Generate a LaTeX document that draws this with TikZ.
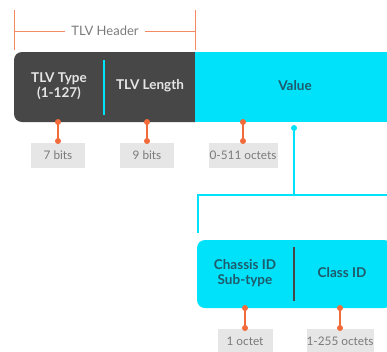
\documentclass[tikz,border=0pt]{standalone}
\usepackage{fontspec}
\setmainfont{Lato}
\definecolor{darkbar}{HTML}{474747}
\definecolor{cyanbar}{HTML}{00E1FA}
\definecolor{orng}{HTML}{F26B3A}
\definecolor{graybox}{HTML}{E6E6E6}
\definecolor{graytxt}{HTML}{7A7A7A}
\definecolor{tealtxt}{HTML}{1F5B6B}
\definecolor{lighttxt}{HTML}{E6E6E6}
\begin{document}
\begin{tikzpicture}[x=1pt,y=-1pt,
  sizebox/.style={fill=graybox,text=graytxt,minimum height=25pt,inner sep=0pt,font=\fontsize{11.8}{13}\selectfont},
  darklbl/.style={text=lighttxt,font=\bfseries\fontsize{13.5}{14.5}\selectfont,align=center},
  cyanlbl/.style={text=tealtxt,font=\bfseries\fontsize{13.5}{14.5}\selectfont,align=center},
  pin/.style={draw=orng,line width=1.3pt},
  dot/.style={circle,fill=orng,inner sep=0pt,minimum size=6pt},
  cdot/.style={circle,fill=cyanbar,inner sep=0pt,minimum size=6pt},
  cline/.style={draw=cyanbar,line width=1.3pt},
  hdr/.style={draw=orng!80,line width=1pt}]
\useasboundingbox (0,0) rectangle (387,351);
% header bracket
\node[text=graytxt,font=\fontsize{13}{15}\selectfont] (hdrtxt) at (105,31) {TLV Header};
\draw[hdr] (14,10) -- (14,50);
\draw[hdr] (195,10) -- (195,50);
\draw[hdr] (14,31) -- ([xshift=-3pt]hdrtxt.west);
\draw[hdr] ([xshift=3pt]hdrtxt.east) -- (195,31);
% main bar
\fill[cyanbar] (195,52) rectangle (387,122);
\fill[darkbar,rounded corners=8pt] (14,52) rectangle (203,122);
\fill[darkbar] (190,52) rectangle (195,122);
\fill[cyanbar] (195,52) rectangle (210,122);
\draw[cyanbar,line width=1.2pt] (104,60) -- (104,115);
\node[darklbl] (type) at (59,86) {TLV Type\\(1-127)};
\node[darklbl] (len) at (150,86) {TLV Length};
\node[cyanlbl] (val) at (295,86) {Value};
% size boxes
\node[sizebox,minimum width=54pt] (b7) at (58,155) {7 bits};
\node[sizebox,minimum width=54pt] (b9) at (147,155) {9 bits};
\node[sizebox,minimum width=69pt] (b511) at (243,155) {0-511 octets};
\foreach \x/\b in {58/b7,147/b9,243/b511}{
  \draw[pin] (\x,122) -- (\x,141);
  \node[dot] at (\x,122) {};
  \node[dot] at (\x,141) {};
}
% connector
\node[cdot] (vd) at (294,128) {};
\coordinate (vj) at (294,195);
\coordinate (vl) at (198,195);
\coordinate (vlb) at (198,233);
\coordinate (vr) at (387,195);
\draw[cline] (vd) -- (vj);
\draw[cline] (vr) -- (vl) -- (vlb);
% lower bar
\fill[cyanbar,rounded corners=8pt] (197,240) rectangle (392,308);
\draw[darkbar,line width=1.2pt] (294,247) -- (294,301);
\node[cyanlbl] (chs) at (245,273) {Chassis ID\\Sub-type};
\node[cyanlbl] (cls) at (342,273) {Class ID};
\node[sizebox,minimum width=55pt] (b1) at (245,341) {1 octet};
\node[sizebox,minimum width=67pt] (b255) at (340,341) {1-255 octets};
\foreach \x in {245,340}{
  \draw[pin] (\x,308) -- (\x,328);
  \node[dot] at (\x,308) {};
  \node[dot] at (\x,328) {};
}
\end{tikzpicture}
\end{document}
